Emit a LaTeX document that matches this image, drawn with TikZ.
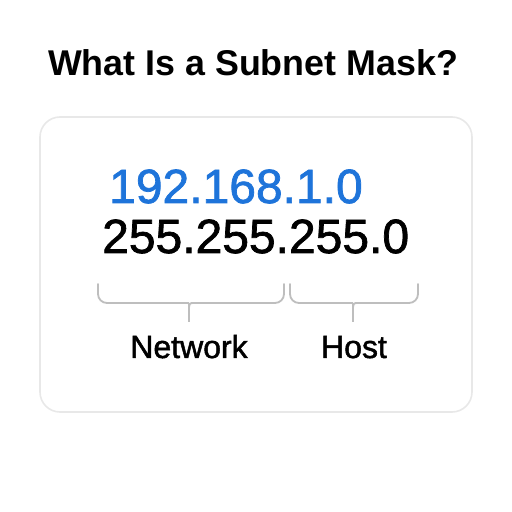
\documentclass[tikz,border=0pt]{standalone}
\usepackage{fontspec}
\setmainfont{Liberation Sans}
\newfontfamily\medfont[FakeBold=1.5]{Liberation Sans}
\usepackage{tikz}
\usetikzlibrary{
    positioning,
    calc
}
\definecolor{AddrBlue}{RGB}{30,116,218}
\definecolor{CardEdge}{RGB}{232,232,232}
\definecolor{BraceGray}{RGB}{190,190,190}

\begin{document}
\begin{tikzpicture}[
            x=1pt, y=1pt,
            every node/.style={inner sep=0pt},
            brace/.style={BraceGray, line width=1.8pt, line cap=round, rounded corners=9pt},
        ]
          \useasboundingbox[fill=white] (0,0) rectangle (512,512);

          % Title
          \node[anchor=base, font=\bfseries\fontsize{35.8}{42}\selectfont] (title) at (253,436) {What Is a Subnet Mask?};

          % Card
          \draw[CardEdge, line width=1.6pt, rounded corners=20pt] (40,100) rectangle (472,395);

          % Address and mask
          \node[anchor=base west, AddrBlue, font=\medfont\fontsize{48}{56}\selectfont] (addr) at (109,309) {192.168.1.0};
          \node[anchor=base west, font=\medfont\fontsize{48}{56}\selectfont] (mask) at (102,259) {255.255.255.0};

          % Braces
          \foreach \l/\m/\r in {98/189/284, 290/353/418}
          {
            \draw[brace] (\l,228) -- (\l,209) -- (\m-14,209) .. controls (\m,209) .. (\m,199) -- (\m,192);
            \draw[brace] (\r,228) -- (\r,209) -- (\m+14,209) .. controls (\m,209) .. (\m,199);
          }

          % Labels
          \node[anchor=base, font=\medfont\fontsize{32}{38}\selectfont] (netlbl) at (189,154) {Network};
          \node[anchor=base, font=\medfont\fontsize{32}{38}\selectfont] (hostlbl) at (354,154) {Host};
        \end{tikzpicture}
\end{document}
